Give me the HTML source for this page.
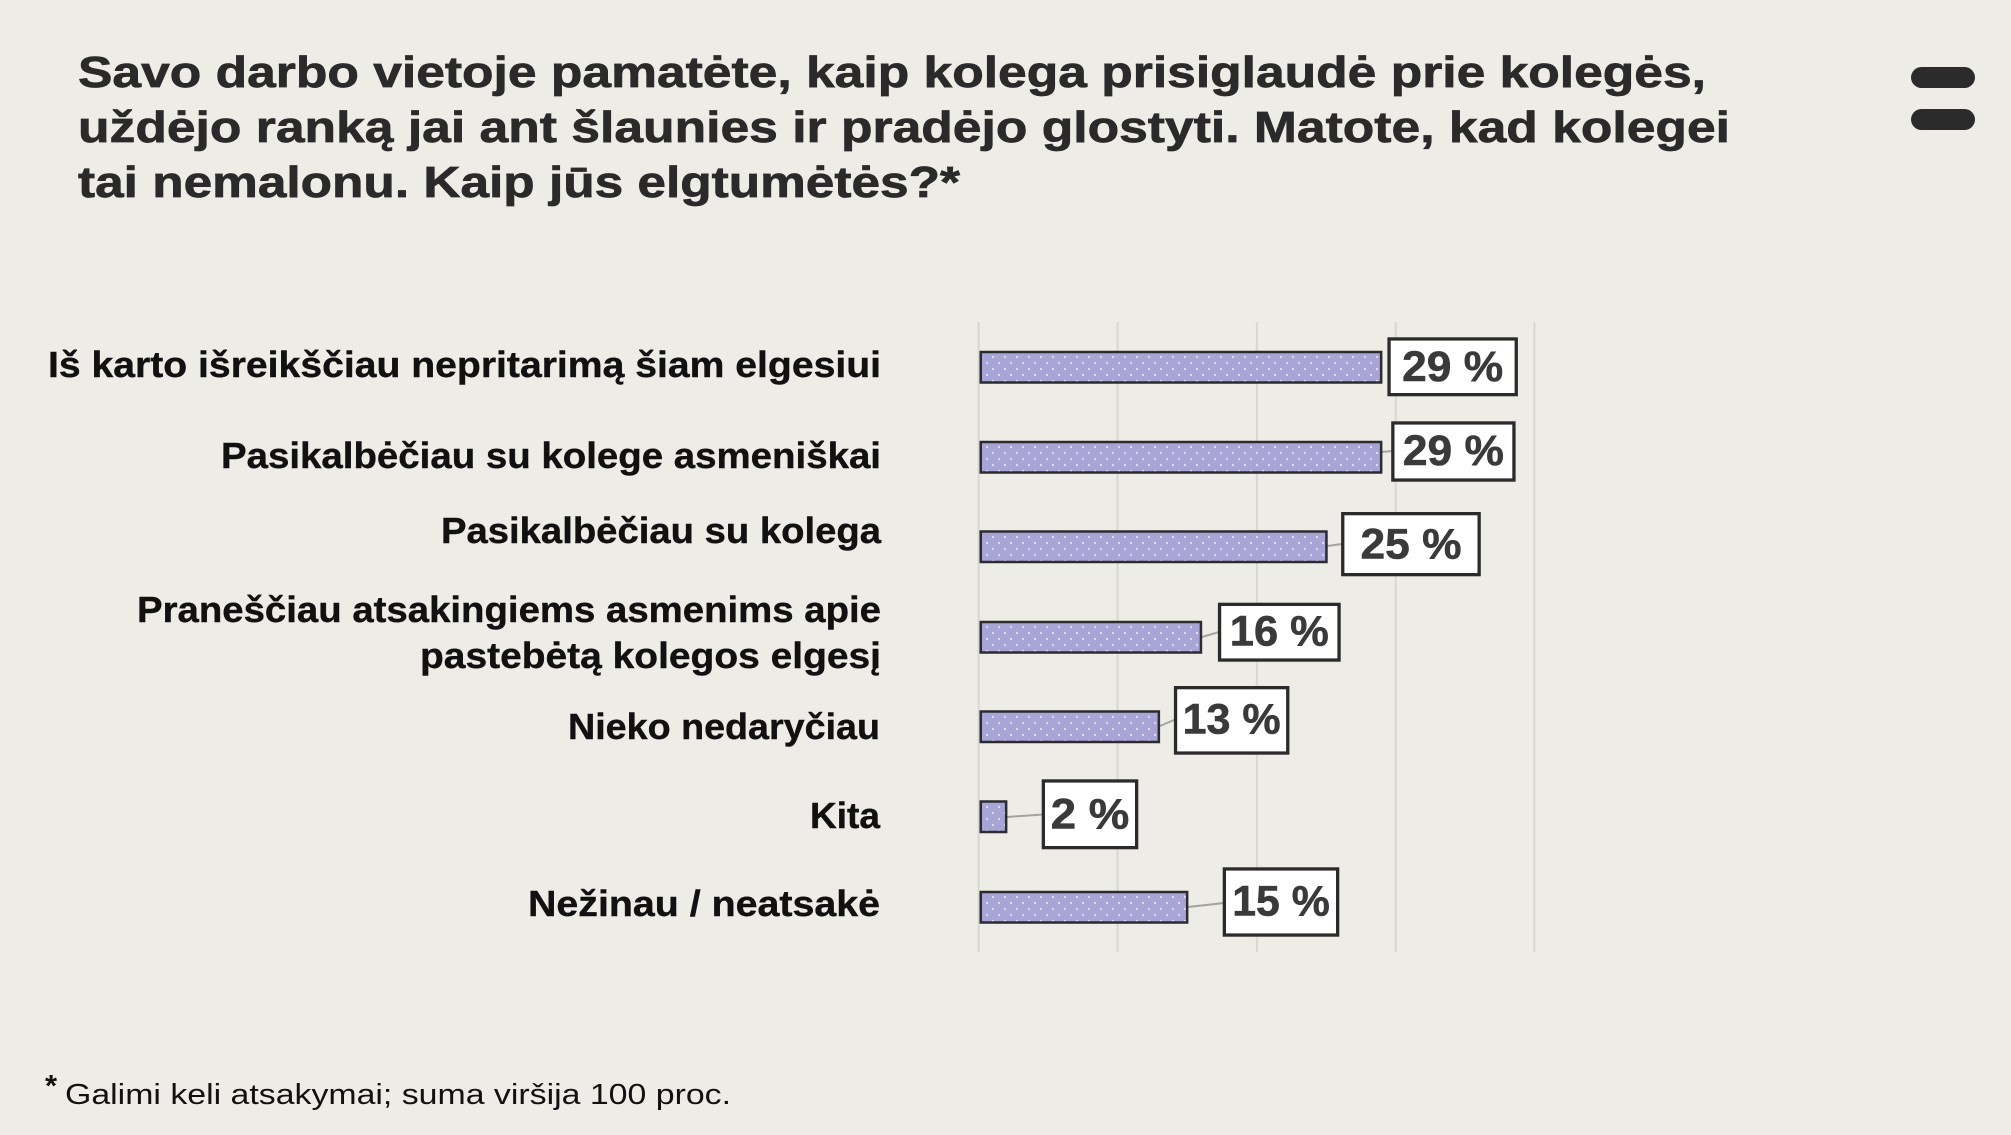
<!DOCTYPE html>
<html>
<head>
<meta charset="utf-8">
<style>
  html, body { margin: 0; padding: 0; background: #edece6; }
  svg { display: block; }
  .t { font-family: "Liberation Sans", "DejaVu Sans", sans-serif; }
</style>
</head>
<body>
<svg width="2011" height="1135" viewBox="0 0 2011 1135" xmlns="http://www.w3.org/2000/svg">
  <defs>
    <pattern id="dots" width="12" height="12" patternUnits="userSpaceOnUse">
      <rect width="12" height="12" fill="#a9a4d6"/>
      <circle cx="3" cy="3" r="1.1" fill="#e2e0f3"/>
      <circle cx="9" cy="9" r="1.1" fill="#e2e0f3"/>
    </pattern>
  </defs>
  <rect x="0" y="0" width="2011" height="1135" fill="#edece6"/>

  <!-- Title -->
  <g class="t" font-weight="bold" font-size="44" fill="#2a2a2a" stroke="#2a2a2a" stroke-width="0.7">
    <text x="78" y="87" textLength="1628" lengthAdjust="spacingAndGlyphs">Savo darbo vietoje pamatėte, kaip kolega prisiglaudė prie kolegės,</text>
    <text x="78" y="142" textLength="1652" lengthAdjust="spacingAndGlyphs">uždėjo ranką jai ant šlaunies ir pradėjo glostyti. Matote, kad kolegei</text>
    <text x="78" y="197" textLength="882" lengthAdjust="spacingAndGlyphs">tai nemalonu. Kaip jūs elgtumėtės?*</text>
  </g>

  <!-- Hamburger icon -->
  <rect x="1911" y="67" width="64" height="21" rx="10.5" fill="#2b2b2b"/>
  <rect x="1911" y="109" width="64" height="21" rx="10.5" fill="#2b2b2b"/>

  <!-- Gridlines -->
  <g stroke="#d8d7d1" stroke-width="2">
    <line x1="978.7" y1="322" x2="978.7" y2="952"/>
    <line x1="1117.6" y1="322" x2="1117.6" y2="952"/>
    <line x1="1256.9" y1="322" x2="1256.9" y2="952"/>
    <line x1="1395.8" y1="322" x2="1395.8" y2="952"/>
    <line x1="1534.4" y1="322" x2="1534.4" y2="952"/>
  </g>

  <!-- Category labels -->
  <g class="t" font-weight="bold" font-size="36" fill="#111111" stroke="#111111" stroke-width="0.4">
    <text x="48" y="377" textLength="833" lengthAdjust="spacingAndGlyphs">Iš karto išreikščiau nepritarimą šiam elgesiui</text>
    <text x="221" y="468" textLength="660" lengthAdjust="spacingAndGlyphs">Pasikalbėčiau su kolege asmeniškai</text>
    <text x="441" y="543" textLength="440" lengthAdjust="spacingAndGlyphs">Pasikalbėčiau su kolega</text>
    <text x="137" y="622" textLength="744" lengthAdjust="spacingAndGlyphs">Praneščiau atsakingiems asmenims apie</text>
    <text x="420" y="668" textLength="461" lengthAdjust="spacingAndGlyphs">pastebėtą kolegos elgesį</text>
    <text x="568" y="739" textLength="312" lengthAdjust="spacingAndGlyphs">Nieko nedaryčiau</text>
    <text x="810" y="828" textLength="70" lengthAdjust="spacingAndGlyphs">Kita</text>
    <text x="528" y="916" textLength="352" lengthAdjust="spacingAndGlyphs">Nežinau / neatsakė</text>
  </g>

  <!-- Connectors -->
  <g stroke="#a3a29c" stroke-width="2" fill="none">
    <line x1="1382" y1="452" x2="1392" y2="451"/>
    <line x1="1327.5" y1="546" x2="1342" y2="544"/>
    <line x1="1202" y1="637" x2="1219" y2="632"/>
    <line x1="1160" y1="726" x2="1175" y2="719.5"/>
    <line x1="1007" y1="817" x2="1043" y2="814.5"/>
    <line x1="1188" y1="907" x2="1224" y2="903"/>
  </g>

  <!-- Bars -->
  <g stroke="#2b2b30" stroke-width="2.5" fill="url(#dots)">
    <rect x="980.75" y="352" width="400.4" height="30.5"/>
    <rect x="980.75" y="442" width="400.4" height="30.5"/>
    <rect x="980.75" y="531.5" width="345.7" height="30.5"/>
    <rect x="980.75" y="622" width="220.2" height="30.5"/>
    <rect x="980.75" y="711.5" width="178.1" height="30.5"/>
    <rect x="980.75" y="801.5" width="25.4" height="30.5"/>
    <rect x="980.75" y="892" width="206.4" height="30.5"/>
  </g>

  <!-- Value boxes -->
  <g stroke="#2b2b2b" stroke-width="3.3" fill="#ffffff">
    <rect x="1389.05" y="338.95" width="127.2" height="55.7"/>
    <rect x="1392.85" y="422.95" width="121.1" height="57.1"/>
    <rect x="1342.75" y="513.65" width="136.4" height="61"/>
    <rect x="1219.55" y="604.35" width="119.5" height="55.7"/>
    <rect x="1175.55" y="687.65" width="112.2" height="65.4"/>
    <rect x="1043.35" y="780.95" width="93.3" height="66.7"/>
    <rect x="1224.35" y="868.95" width="113.3" height="66.1"/>
  </g>
  <g class="t" font-weight="bold" font-size="43" fill="#3a3a3a" stroke="#3a3a3a" stroke-width="0.6" text-anchor="middle">
    <text x="1452.6" y="381" textLength="101" lengthAdjust="spacingAndGlyphs">29 %</text>
    <text x="1453.4" y="465" textLength="101" lengthAdjust="spacingAndGlyphs">29 %</text>
    <text x="1411" y="558.5" textLength="101" lengthAdjust="spacingAndGlyphs">25 %</text>
    <text x="1279.3" y="645.5" textLength="99" lengthAdjust="spacingAndGlyphs">16 %</text>
    <text x="1231.6" y="733.5" textLength="98" lengthAdjust="spacingAndGlyphs">13 %</text>
    <text x="1090" y="828.5" textLength="78.5" lengthAdjust="spacingAndGlyphs">2 %</text>
    <text x="1281" y="915.5" textLength="97.5" lengthAdjust="spacingAndGlyphs">15 %</text>
  </g>

  <!-- Footnote -->
  <text class="t" x="45" y="1096" font-size="31" font-weight="bold" fill="#111111">*</text>
  <text class="t" x="65" y="1104" font-size="29" fill="#111111" textLength="666" lengthAdjust="spacingAndGlyphs">Galimi keli atsakymai; suma viršija 100 proc.</text>
</svg>
</body>
</html>
